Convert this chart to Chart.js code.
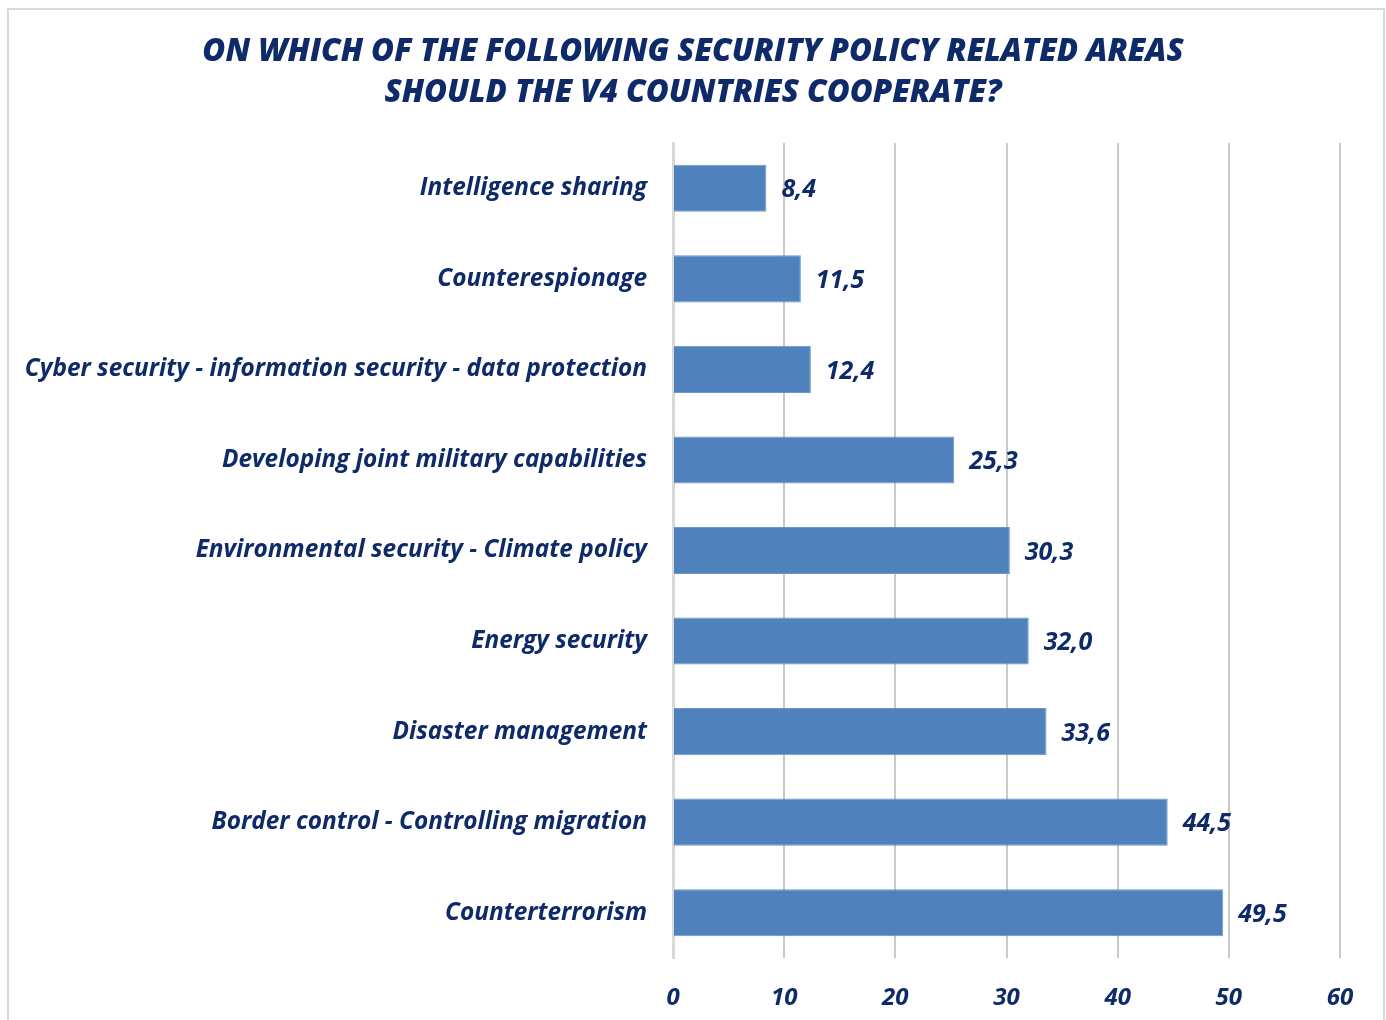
<!DOCTYPE html>
<html>
<head>
<meta charset="utf-8">
<script src="https://cdn.jsdelivr.net/npm/chart.js@4.4.0/dist/chart.umd.min.js"></script>
<style>
    body { margin: 0; background: #ffffff; }
    #wrap { position: relative; width: 1386px; height: 1020px; overflow: hidden; }
    #frame { position: absolute; left: 7px; top: 8px; width: 1374px; height: 1030px; border: 2px solid #d9d9d9; }
    #myChart { position: absolute; left: 0; top: 0; }
</style>
</head>
<body>
<div id="wrap">
    <div id="frame"></div>
    <canvas id="myChart" width="1386" height="1020"></canvas>
</div>
<script>
// categories, top to bottom
var areas = [
    'Intelligence sharing',
    'Counterespionage',
    'Cyber security - information security - data protection',
    'Developing joint military capabilities',
    'Environmental security - Climate policy',
    'Energy security',
    'Disaster management',
    'Border control - Controlling migration',
    'Counterterrorism'
];
var shares = [8.4, 11.5, 12.4, 25.3, 30.3, 32.0, 33.6, 44.5, 49.5];
var xTicks = [0, 10, 20, 30, 40, 50, 60];
var titleLines = ['ON WHICH OF THE FOLLOWING SECURITY POLICY RELATED AREAS', 'SHOULD THE V4 COUNTRIES COOPERATE?'];

var navy = '#0e2a68';
var fontFamily = '"Open Sans", Lato, sans-serif';

// writes the value next to each bar (comma as decimal mark)
var valueLabels = {
    id: 'valueLabels',
    afterDatasetsDraw: function(chart) {
        var ctx = chart.ctx;
        var meta = chart.getDatasetMeta(0);
        ctx.save();
        ctx.font = 'italic bold 25px ' + fontFamily;
        ctx.fillStyle = navy;
        ctx.textAlign = 'left';
        ctx.textBaseline = 'middle';
        meta.data.forEach(function(bar, i) {
            var txt = shares[i].toFixed(1).replace('.', ',');
            ctx.fillText(txt, bar.x + 15, bar.y + 2);
        });
        ctx.restore();
    }
};

// title should be centred on the whole picture, not the padded box
var wideTitle = {
    id: 'wideTitle',
    afterLayout: function(chart) {
        if (chart.titleBlock) {
            chart.titleBlock.left = 0;
            chart.titleBlock.right = chart.width;
            chart.titleBlock.width = chart.width;
        }
    }
};

document.addEventListener("DOMContentLoaded", function() {
    var ctx = document.getElementById('myChart').getContext('2d');
    var chart = new Chart(ctx, {
        type: 'bar',
        data: {
            labels: areas,
            datasets: [{
                data: shares,
                backgroundColor: '#4f81bd',
                borderColor: '#6a95c9',
                borderWidth: 1,
                barPercentage: 0.52,
                categoryPercentage: 1
            }]
        },
        options: {
            indexAxis: 'y',
            responsive: false,
            animation: false,
            layout: {
                padding: { left: 0, right: 46, top: 0, bottom: 0 }
            },
            plugins: {
                legend: { display: false },
                tooltip: { enabled: false },
                title: {
                    display: true,
                    text: titleLines,
                    color: navy,
                    font: { family: fontFamily, size: 31.3, weight: 800, style: 'italic', lineHeight: 1.31 },
                    padding: { top: 32, bottom: 29 }
                }
            },
            scales: {
                x: {
                    min: 0,
                    max: 60,
                    afterBuildTicks: function(scale) {
                        scale.ticks = xTicks.map(function(v) { return { value: v }; });
                    },
                    afterFit: function(scale) { scale.height = 62; },
                    grid: { color: '#c9c9c9', lineWidth: 2, drawTicks: false },
                    border: { display: false },
                    ticks: {
                        color: navy,
                        padding: 26,
                        font: { family: fontFamily, size: 24, weight: 'bold', style: 'italic' }
                    }
                },
                y: {
                    // plot area starts at x = 673 like the original
                    afterFit: function(scale) { scale.width = 673; },
                    grid: { display: false, drawTicks: false },
                    border: { display: true, color: '#d9d9d9', width: 3 },
                    ticks: {
                        color: navy,
                        padding: 26,
                        font: { family: fontFamily, size: 24.4, weight: 'bold', style: 'italic' }
                    }
                }
            }
        },
        plugins: [valueLabels, wideTitle]
    });
});
</script>
</body>
</html>
